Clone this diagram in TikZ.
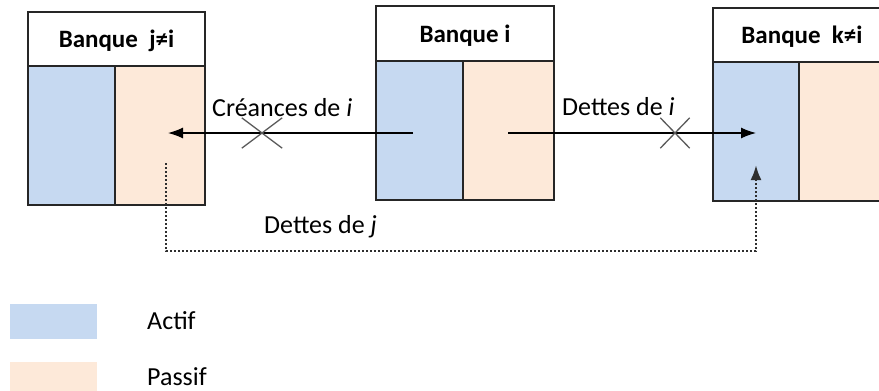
\documentclass[tikz,border=0pt]{standalone}
\usepackage{fontspec}
\setmainfont{Carlito}
\usetikzlibrary{arrows.meta,shapes.misc}
\definecolor{actif}{HTML}{C6D9F1}
\definecolor{passif}{HTML}{FDE9D9}
\definecolor{edge}{HTML}{262626}
\definecolor{crossc}{HTML}{5A5A5A}
\definecolor{dotc}{HTML}{2E2E2E}
\begin{document}
\begin{tikzpicture}[x=1pt,y=-1pt,
  font=\fontsize{26}{30}\selectfont,
  hdr/.style={draw=edge, line width=1.6pt, fill=white, inner sep=0pt,
    text height=17pt, text depth=0pt, font=\bfseries\fontsize{25}{30}\selectfont},
  cell/.style={draw=edge, line width=1.6pt, inner sep=0pt},
  lbl/.style={inner sep=0pt, anchor=base west, text=black},
  arr/.style={line width=1.3pt, draw=black, -{Latex[length=15pt,width=11pt]}},
  xmark/.style={draw=crossc, line width=1.3pt, cross out, inner sep=0pt},
  dotline/.style={draw=dotc, line width=2.4pt, dash pattern=on 2.2pt off 1.8pt,
    -{Latex[length=15pt,width=11pt]}},
  legbox/.style={inner sep=0pt, minimum width=87pt}]
\clip (0,0) rectangle (879,391);
% Banque j
\node[cell, fill=actif, minimum width=87pt, minimum height=139pt] (jA) at (71.5,135.5) {};
\node[cell, fill=passif, minimum width=90pt, minimum height=139pt] (jP) at (160,135.5) {};
\node[hdr, minimum width=177pt, minimum height=54pt] (jH) at (116.5,39) {Banque\ \ j≠i};
% Banque i
\node[cell, fill=actif, minimum width=87pt, minimum height=139pt] (iA) at (419.5,130.5) {};
\node[cell, fill=passif, minimum width=91pt, minimum height=139pt] (iP) at (508.5,130.5) {};
\node[hdr, minimum width=178pt, minimum height=55pt] (iH) at (465,33.5) {Banque i};
% Banque k
\node[cell, fill=actif, minimum width=86pt, minimum height=139pt] (kA) at (756,131.5) {};
\node[cell, fill=passif, minimum width=92pt, minimum height=139pt] (kP) at (845,131.5) {};
\node[hdr, minimum width=178pt, minimum height=54pt] (kH) at (802,35) {Banque\ \ k≠i};
% connector end points
\coordinate (iAin) at (413,133);
\coordinate (jPin) at (168,133);
\coordinate (iPin) at (508,133);
\coordinate (kAin) at (756,133);
\coordinate (jPd) at (166,163);
\coordinate (kAd) at (756,165);
% arrows
\draw[arr] (iAin) -- (jPin);
\draw[arr] (iPin) -- (kAin);
\draw[dotline] (jPd) -- ++(0,88) -| (kAd);
% crosses
\node[xmark, minimum width=39pt, minimum height=29pt] (x1) at (262,133) {};
\node[xmark, minimum width=28pt, minimum height=29pt] (x2) at (675,133) {};
% labels
\node[lbl] (lc) at (212,116) {Créances de \textit{i}};
\node[lbl] (ld) at (562,115) {Dettes de \textit{i}};
\node[lbl] (lj) at (264,233) {Dettes de \textit{j}};
% legend
\node[legbox, fill=actif, minimum height=35pt] (legA) at (53.5,321.5) {};
\node[legbox, fill=passif, minimum height=32pt] (legP) at (53.5,378) {};
\node[lbl] (tA) at (147,329) {Actif};
\node[lbl] (tP) at (147,385) {Passif};
\end{tikzpicture}
\end{document}
